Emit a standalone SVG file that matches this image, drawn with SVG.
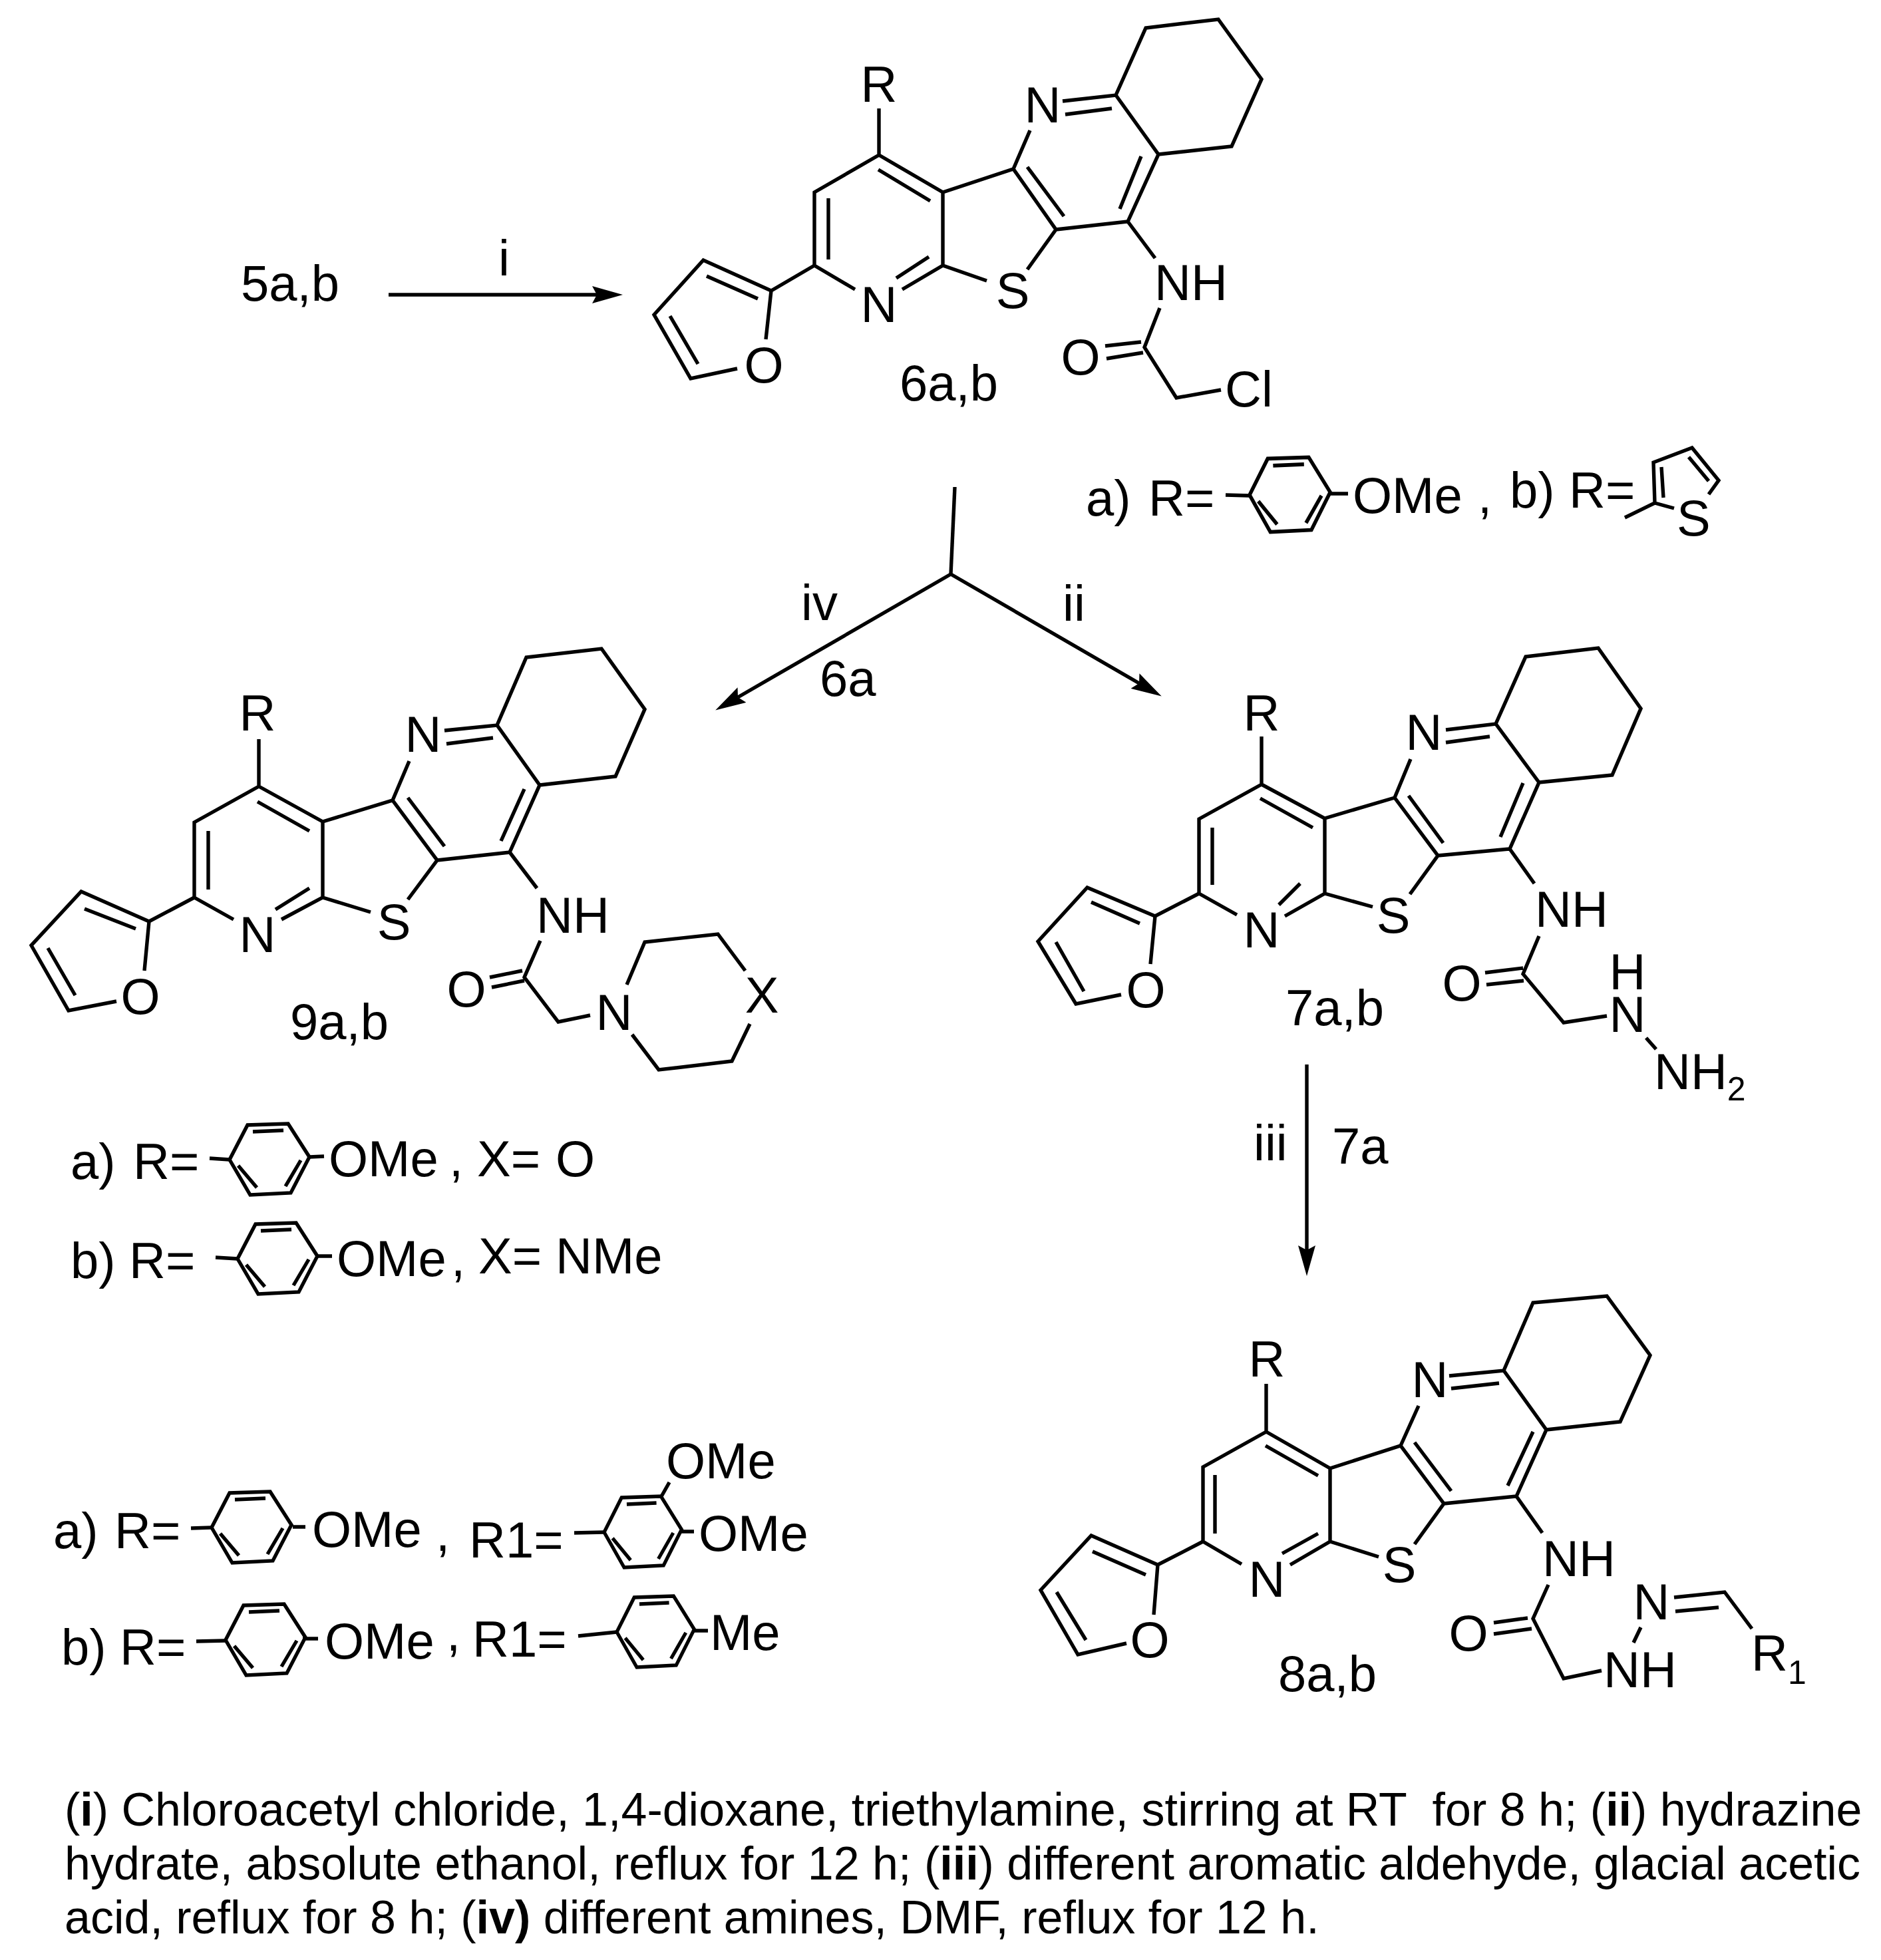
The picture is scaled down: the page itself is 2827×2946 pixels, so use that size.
<svg xmlns="http://www.w3.org/2000/svg" width="2827" height="2946" viewBox="0 0 2827 2946">
<style>
text{font-family:"Liberation Sans",Arial,sans-serif;font-size:76px;fill:#000;white-space:pre}
.m{text-anchor:middle}
.s{font-size:50px}
.f{font-size:70px}
tspan.b{font-weight:bold}
path.b{fill:none;stroke:#000;stroke-width:5.4}
.c{fill:none;stroke:#000;stroke-width:5.4}
</style>
<defs>
<marker id="head" viewBox="0 0 46 26" markerUnits="userSpaceOnUse" markerWidth="46" markerHeight="26" refX="7" refY="13" orient="auto"><path d="M0,0L46,13L0,26L7,13Z" fill="#000"/></marker>
<g id="benz"><path class="b" d="M0,0L27,-52L88,-54L120,-4L92,50L31,53Z M35,-42L81,-44 M13,9L41,42 M107,1L84,40"/></g>
</defs>
<rect width="2827" height="2946" fill="#fff"/>

<g id="connectors">
<path class="c" marker-end="url(#head)" d="M584,443L897,443"/>
<path class="c" d="M1435,732L1429,863"/>
<path class="c" marker-end="url(#head)" d="M1429,863L1109,1048"/>
<path class="c" marker-end="url(#head)" d="M1429,863L1712,1027"/>
<path class="c" marker-end="url(#head)" d="M1964,1600L1964,1879"/>
</g>

<g id="labels">
<text x="362" y="452">5a,b</text>
<text x="749" y="414">i</text>
<text x="1204" y="932">iv</text>
<text x="1597" y="933">ii</text>
<text x="1232" y="1046">6a</text>
<text x="1884" y="1744">iii</text>
<text x="2002" y="1749">7a</text>
</g>

<g id="compound-6">
<path class="b" d="M1321,163V233L1224,289V399L1285,435 M1356,435L1417,399V289L1321,233 M1417,289L1523,254L1587,345L1544,405 M1483,422L1417,399 M1548,196L1523,254 M1597,152L1677,143L1741,232L1695,333L1587,345 M1677,143L1722,42L1831,29L1896,119L1851,220L1741,232 M1695,333L1736,388 M1743,463L1720,522L1768,598L1835,586 M1661,520L1715,514 M1663,539L1718,530"/>
<path class="b" d="M1245,298V390 M1396,386L1347,418 M1320,255L1398,302 M1544,251L1599,325 M1601,172L1671,163 M1715,235L1683,314"/>
<path class="b" d="M1224,399L1159,437L1057,391L983,473L1038,569L1108,554 M1159,437L1151,510 M1139,449L1062,415 M1007,475L1049,547"/>
<text class="m" x="1321" y="153">R</text>
<text class="m" x="1321" y="484">N</text>
<text class="m" x="1522" y="463">S</text>
<text class="m" x="1567" y="184">N</text>
<text class="m" x="1790" y="451">NH</text>
<text class="m" x="1624" y="563">O</text>
<text class="m" x="1148" y="575">O</text>
<text x="1841" y="611">Cl</text>
<text x="1352" y="602">6a,b</text>
</g>

<g id="substituents-6">
<text x="1632" y="775">a)</text>
<text x="1726" y="775">R=</text>
<path class="b" d="M1842,744L1878,745 M1999,742L2026,742"/>
<use href="#benz" transform="translate(1878,744) scale(1.01,1.05)"/>
<text x="2033" y="771">OMe</text>
<text x="2221" y="771">,</text>
<text x="2269" y="763">b)</text>
<text x="2358" y="763">R=</text>
<path class="b" d="M2442,778L2487,756L2485,695L2543,673L2583,722L2568,743 M2487,756L2516,764 M2497,702L2500,748 M2538,687L2568,723"/>
<text x="2520" y="805">S</text>
</g>

<g id="compound-7">
<path class="b" d="M1896,1107V1179L1802,1231V1343L1859,1375 M1931,1377L1991,1343V1230L1896,1179 M1991,1230L2096,1199L2161,1286L2119,1344 M2063,1363L1991,1343 M2120,1141L2096,1199 M2173,1097L2248,1088L2313,1176L2269,1276L2161,1286 M2248,1088L2293,987L2402,974L2466,1065L2423,1165L2313,1176 M2269,1276L2306,1328 M2313,1407L2289,1464L2350,1537L2415,1527 M2232,1462L2289,1455 M2234,1480L2290,1474 M2474,1560L2489,1577"/>
<path class="b" d="M1822,1244V1330 M1954,1328L1922,1360 M1894,1200L1973,1244 M2117,1196L2169,1267 M2173,1116L2239,1107 M2289,1177L2255,1258"/>
<path class="b" d="M1802,1343L1736,1377L1634,1334L1560,1415L1617,1509L1685,1495 M1736,1377L1729,1449 M1713,1388L1640,1356 M1587,1416L1629,1490"/>
<text class="m" x="1896" y="1098">R</text>
<text class="m" x="1896" y="1424">N</text>
<text class="m" x="2094" y="1402">S</text>
<text class="m" x="2140" y="1127">N</text>
<text class="m" x="2362" y="1393">NH</text>
<text class="m" x="2197" y="1504">O</text>
<text class="m" x="2446" y="1487">H</text>
<text class="m" x="2446" y="1551">N</text>
<text x="2486" y="1637">NH<tspan class="s" dy="17">2</tspan></text>
<text class="m" x="1722" y="1514">O</text>
<text x="1932" y="1541">7a,b</text>
</g>

<g id="compound-9">
<path class="b" d="M389,1111V1182L292,1236V1349L351,1382 M423,1382L485,1349V1235L389,1182 M485,1235L590,1203L657,1293L613,1352 M557,1371L485,1349 M615,1144L590,1203 M668,1098L747,1090L811,1180L766,1281L657,1293 M747,1090L791,988L904,975L969,1066L925,1167L811,1180 M766,1281L807,1335 M812,1414L788,1469L839,1536L887,1526 M736,1469L785,1459 M739,1484L788,1474"/>
<path class="b" d="M313,1249V1337 M465,1335L414,1367 M387,1205L465,1249 M613,1199L668,1272 M671,1118L741,1109 M788,1186L753,1264"/>
<path class="b" d="M942,1480L969,1416L1079,1404L1120,1459 M1127,1539L1100,1595L990,1608L950,1555"/>
<path class="b" d="M292,1349L224,1385L122,1340L47,1421L103,1519L175,1505 M224,1385L217,1459 M204,1396L127,1366 M72,1425L113,1496"/>
<text class="m" x="387" y="1098">R</text>
<text class="m" x="387" y="1431">N</text>
<text class="m" x="592" y="1412">S</text>
<text class="m" x="636" y="1130">N</text>
<text class="m" x="861" y="1402">NH</text>
<text class="m" x="701" y="1513">O</text>
<text class="m" x="211" y="1524">O</text>
<text class="m" x="923" y="1548">N</text>
<text class="m" x="1145" y="1522">X</text>
<text x="436" y="1562">9a,b</text>
</g>

<g id="substituents-9">
<text x="106" y="1772">a)</text>
<text x="200" y="1772">R=</text>
<path class="b" d="M315,1741L345,1743 M465,1739L487,1738"/>
<use href="#benz" transform="translate(345,1743)"/>
<text x="494" y="1768">OMe</text>
<text x="675" y="1768">,</text>
<text x="717" y="1768">X=</text>
<text x="835" y="1768">O</text>
<text x="106" y="1921">b)</text>
<text x="194" y="1921">R=</text>
<path class="b" d="M324,1890L357,1892 M477,1888L499,1888"/>
<use href="#benz" transform="translate(357,1892)"/>
<text x="506" y="1918">OMe</text>
<text x="678" y="1918">,</text>
<text x="719" y="1914">X=</text>
<text x="835" y="1914">NMe</text>
</g>

<g id="substituents-8">
<text x="80" y="2327">a)</text>
<text x="172" y="2327">R=</text>
<path class="b" d="M287,2297L318,2296 M440,2295L459,2295"/>
<use href="#benz" transform="translate(318,2296)"/>
<text x="469" y="2325">OMe</text>
<text x="655" y="2331">,</text>
<text x="705" y="2341">R1=</text>
<path class="b" d="M863,2304L908,2303 M1024,2302L1043,2302 M993,2251L1006,2228"/>
<use href="#benz" transform="translate(908,2303) scale(.97,1)"/>
<text x="1050" y="2331">OMe</text>
<text x="1001" y="2222">OMe</text>
<text x="92" y="2502">b)</text>
<text x="180" y="2502">R=</text>
<path class="b" d="M295,2467L339,2466 M455,2463L478,2463"/>
<use href="#benz" transform="translate(339,2465)"/>
<text x="488" y="2493">OMe</text>
<text x="671" y="2481">,</text>
<text x="710" y="2490">R1=</text>
<path class="b" d="M869,2459L927,2453 M1042,2451L1064,2451"/>
<use href="#benz" transform="translate(927,2453) scale(.97,1)"/>
<text x="1067" y="2480">Me</text>
</g>

<g id="compound-8">
<path class="b" d="M1903,2080V2152L1808,2205V2317L1866,2351 M1939,2352L1999,2317V2207L1903,2152 M1999,2207L2105,2173L2170,2260L2126,2321 M2072,2340L1999,2317 M2132,2113L2105,2173 M2178,2068L2260,2060L2324,2149L2279,2249L2170,2260 M2260,2060L2304,1958L2415,1948L2480,2037L2435,2137L2324,2149 M2279,2249L2318,2304 M2327,2382L2304,2433L2350,2523L2407,2511 M2245,2439L2296,2432 M2245,2456L2302,2448 M2455,2469L2466,2446 M2516,2401L2592,2393L2633,2448 M2518,2422L2583,2416"/>
<path class="b" d="M1826,2217V2305 M1981,2305L1927,2335 M1902,2173L1981,2218 M2126,2168L2181,2241 M2181,2087L2253,2079 M2304,2152L2266,2233"/>
<path class="b" d="M1808,2317L1740,2352L1640,2308L1564,2390L1620,2487L1693,2470 M1740,2352L1734,2427 M1722,2367L1642,2332 M1588,2393L1632,2465"/>
<text class="m" x="1904" y="2069">R</text>
<text class="m" x="1904" y="2400">N</text>
<text class="m" x="2103" y="2378">S</text>
<text class="m" x="2149" y="2100">N</text>
<text class="m" x="2373" y="2369">NH</text>
<text class="m" x="2207" y="2481">O</text>
<text class="m" x="1728" y="2491">O</text>
<text class="m" x="2465" y="2536">NH</text>
<text class="m" x="2482" y="2434">N</text>
<text x="2632" y="2511">R<tspan class="s" dy="20">1</tspan></text>
<text x="1921" y="2542">8a,b</text>
</g>

<g id="footnote">
<text class="f" x="97" y="2744">(<tspan class="b">i</tspan>) Chloroacetyl chloride, 1,4-dioxane, triethylamine, stirring at RT  for 8 h; (<tspan class="b">ii</tspan>) hydrazine</text>
<text class="f" x="97" y="2825">hydrate, absolute ethanol, reflux for 12 h; (<tspan class="b">iii</tspan>) different aromatic aldehyde, glacial acetic</text>
<text class="f" x="97" y="2906">acid, reflux for 8 h; (<tspan class="b">iv)</tspan> different amines, DMF, reflux for 12 h.</text>
</g>
</svg>
